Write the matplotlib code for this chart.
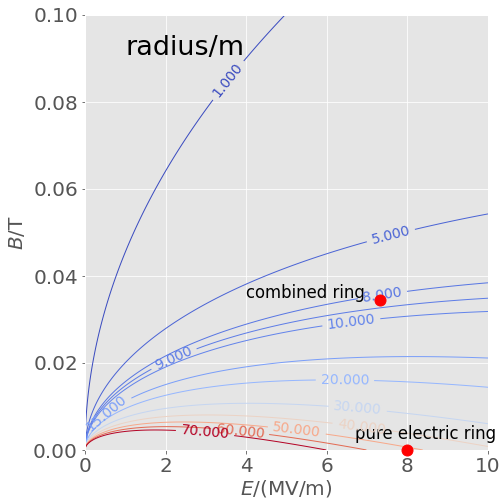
import numpy as np
import matplotlib
matplotlib.use('Agg')
import matplotlib.pyplot as plt

plt.style.use('ggplot')

# contour levels of the bending radius (m)
levels = [1, 5, 8, 9, 10, 15, 20, 30, 40, 50, 60, 70]
E_range = [0, 10]        # MV/m
B_range = [0, 0.1]       # T

# marked rings: (E in MV/m, B in T)
ring_names = ['combined ring', 'pure electric ring']
ring_E = [7.32, 8.0]
ring_B = [0.0345, 0.0]
ring_text_E = [4.0, 6.7]
ring_text_B = [0.035, 0.0025]

# where the contour labels sit
label_E = [3.55, 7.57, 7.37, 6.60, 2.18, 0.50, 6.45, 6.77, 6.87, 5.26, 3.85, 2.98]
label_B = [0.085, 0.050, 0.0363, 0.030, 0.0215, 0.0088, 0.0161, 0.0097, 0.006, 0.0048, 0.0044, 0.0041]

# proton, frozen spin condition
mc2 = 938.272e6   # eV
a = 1.792847
c = 2.99792458e8

E = np.linspace(1e-3, E_range[1], 500)
B = np.linspace(1e-5, B_range[1], 500)
EE, BB = np.meshgrid(E, B)
Ev = EE * 1e6
target = a * BB * c / Ev

# bisection for beta*gamma
lo = np.full_like(EE, 1e-6)
hi = np.full_like(EE, 1 / np.sqrt(a))
for i in range(80):
    mid = 0.5 * (lo + hi)
    g = (1 / mid**2 - a) * mid / np.sqrt(1 + mid**2) - target
    lo = np.where(g > 0, mid, lo)
    hi = np.where(g > 0, hi, mid)
x = 0.5 * (lo + hi)
gam = np.sqrt(1 + x**2)
beta = x / gam
R = mc2 * x**2 / gam / (Ev + beta * c * BB)

fig = plt.figure(figsize=(7, 499 / 72), dpi=72)
ax = fig.add_axes([85 / 504, 49 / 499, 403 / 504, 435 / 499])

cs = ax.contour(EE, BB, R, levels=levels, cmap='coolwarm', linewidths=1.0)
ax.clabel(cs, fmt='%1.3f', fontsize=14, inline=True,
          manual=list(zip(label_E, label_B)))

ax.plot(ring_E, ring_B, 'o', color='red', ms=11, clip_on=False, zorder=5)
for name, tx, ty in zip(ring_names, ring_text_E, ring_text_B):
    ax.text(tx, ty, name, fontsize=16.5, color='black')

ax.text(1.0, 0.0924, 'radius/m', fontsize=27, color='black', va='center')

ax.set_xlim(E_range)
ax.set_ylim(B_range)
ax.set_xticks([0, 2, 4, 6, 8, 10])
ax.set_yticks([0, 0.02, 0.04, 0.06, 0.08, 0.10])
ax.set_yticklabels(['0.00', '0.02', '0.04', '0.06', '0.08', '0.10'])
ax.tick_params(labelsize=20, colors='#555555')
ax.set_xlabel('$E$/(MV/m)', fontsize=20, color='#555555', labelpad=2)
ax.set_ylabel('$B$/T', fontsize=20, color='#555555', labelpad=6)

fig.savefig('out.png', dpi=72)
